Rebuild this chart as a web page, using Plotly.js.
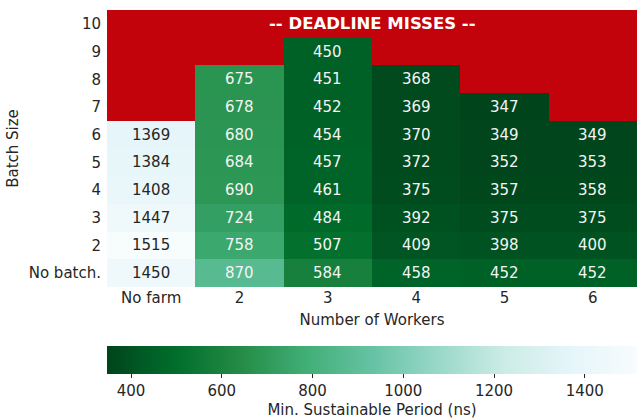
<!DOCTYPE html>
<html>
<head>
<meta charset="utf-8">
<script src="https://cdn.plot.ly/plotly-3.0.1.min.js"></script>
<style>html,body{margin:0;padding:0;background:#fff;}#chart{width:637px;height:418px;}</style>
</head>
<body>
<div id="chart"></div>
<script>
// Categories
const workers = ["No farm", "2", "3", "4", "5", "6"];
const batchSizes = ["No batch.", "2", "3", "4", "5", "6", "7", "8", "9", "10"];
// Values per worker column, bottom (No batch.) to top (10); null = deadline miss
const colNoFarm = [1450, 1515, 1447, 1408, 1384, 1369, null, null, null, null];
const col2 = [870, 758, 724, 690, 684, 680, 678, 675, null, null];
const col3 = [584, 507, 484, 461, 457, 454, 452, 451, 450, null];
const col4 = [458, 409, 392, 375, 372, 370, 369, 368, null, null];
const col5 = [452, 398, 375, 357, 352, 349, 347, null, null, null];
const col6 = [452, 400, 375, 358, 353, 349, null, null, null, null];
const colorTicks = [400, 600, 800, 1000, 1200, 1400];
const missLabel = "-- DEADLINE MISSES --";

const cols = [colNoFarm, col2, col3, col4, col5, col6];
const z = batchSizes.map((b, r) => cols.map(c => c[r]));
const missZ = z.map(row => row.map(v => v === null ? 1 : null));

const BuGnR = [
  [0.0, "#00441b"], [0.125, "#006d2c"], [0.25, "#238b45"], [0.375, "#41ae76"],
  [0.5, "#66c2a4"], [0.625, "#99d8c9"], [0.75, "#ccece6"], [0.875, "#e5f5f9"], [1.0, "#f7fcfd"]
];
const FONT = "DejaVu Sans, sans-serif";
const RED = "#c3030b";
const TS = 15;

const annotations = [];
z.forEach((row, r) => row.forEach((v, c) => {
  if (v === null) return;
  annotations.push({
    x: c, y: r, text: String(v), showarrow: false,
    font: {family: FONT, size: 15, color: v > 1100 ? "#262626" : "#f4f4f4"}
  });
}));
annotations.push({
  x: 0.5, xref: "paper", y: batchSizes.length - 1, yref: "y",
  text: "<b>" + missLabel + "</b>", showarrow: false,
  font: {family: FONT, size: 16.5, color: "#ffffff"}
});

const traces = [
  {
    type: "heatmap", x: workers, y: batchSizes, z: missZ,
    colorscale: [[0, RED], [1, RED]], showscale: false, hoverinfo: "skip", zmin: 0, zmax: 1
  },
  {
    type: "heatmap", x: workers, y: batchSizes, z: z,
    colorscale: BuGnR, zmin: 347, zmax: 1515,
    colorbar: {
      orientation: "h", x: 0, xanchor: "left", xref: "paper",
      y: -0.213, yanchor: "top", yref: "paper",
      len: 1, lenmode: "fraction", thickness: 28, thicknessmode: "pixels",
      outlinewidth: 0, xpad: 0, ypad: 0,
      tickvals: colorTicks, ticks: "outside", ticklen: 4, tickcolor: "#262626",
      tickfont: {family: FONT, size: TS, color: "#262626"},
      title: {text: "Min. Sustainable Period (ns)", side: "bottom", font: {family: FONT, size: TS, color: "#262626"}}
    }
  }
];

const layout = {
  width: 637, height: 418,
  margin: {l: 107, r: 0, t: 10, b: 131, autoexpand: false},
  paper_bgcolor: "#ffffff", plot_bgcolor: "#ffffff",
  font: {family: FONT, size: TS, color: "#262626"},
  xaxis: {
    type: "category", categoryorder: "array", categoryarray: workers,
    showgrid: false, zeroline: false, showline: false, ticks: "",
    tickfont: {family: FONT, size: TS, color: "#262626"},
    title: {text: "Number of Workers", font: {family: FONT, size: TS, color: "#262626"}, standoff: 8}
  },
  yaxis: {
    type: "category", categoryorder: "array", categoryarray: batchSizes,
    showgrid: false, zeroline: false, showline: false, ticks: "",
    ticklabelstandoff: 5,
    tickfont: {family: FONT, size: TS, color: "#262626"},
    title: {text: "Batch Size", font: {family: FONT, size: TS, color: "#262626"}, standoff: 6}
  },
  annotations: annotations,
  showlegend: false
};

Plotly.newPlot("chart", traces, layout, {displayModeBar: false, staticPlot: true});
</script>
</body>
</html>
